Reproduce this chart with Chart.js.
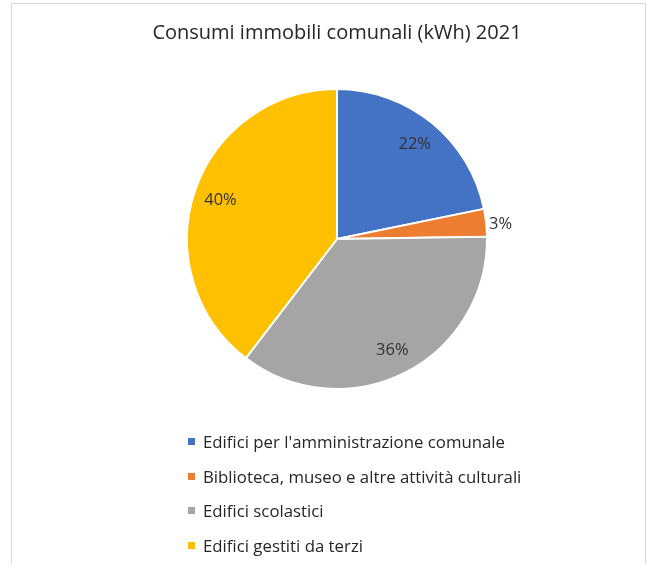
<!DOCTYPE html>
<html>
<head>
<meta charset="utf-8">
<script src="https://cdn.jsdelivr.net/npm/chart.js@4"></script>
<style>
  html, body { margin: 0; padding: 0; background: #fff; }
  body { width: 647px; height: 564px; position: relative; overflow: hidden; }
  #frame {
    position: absolute; left: 11px; top: 3px; width: 633px; height: 580px;
    border: 1px solid #d9d9d9; border-bottom: none;
  }
  #wrap { position: absolute; left: 0; top: 0; width: 647px; height: 564px; }
  #legend {
    position: absolute; left: 188px; top: 430px; margin: 0; padding: 0;
    list-style: none; font-family: "Open Sans", sans-serif; font-size: 16.8px; color: #262626;
  }
  #legend li { height: 34.7px; line-height: 24px; white-space: nowrap; }
  #legend span.box { display: inline-block; width: 7px; height: 7px; margin-right: 8px; vertical-align: 3px; }
</style>
</head>
<body>
<div id="frame"></div>
<div id="wrap"><canvas id="chart" width="647" height="564"></canvas></div>
<ul id="legend"></ul>
<script>
document.addEventListener('DOMContentLoaded', () => {
    // --- Data ---
    const titleText = 'Consumi immobili comunali (kWh) 2021';
    const categories = [
        'Edifici per l\'amministrazione comunale',
        'Biblioteca, museo e altre attività culturali',
        'Edifici scolastici',
        'Edifici gestiti da terzi'
    ];
    const shares = [22, 3, 36, 40];
    const colors = ['#4472C4', '#ED7D31', '#A5A5A5', '#FFC000'];

    // --- Percent labels on / beside slices ---
    const sliceLabels = {
        id: 'sliceLabels',
        afterDatasetsDraw(chart) {
            const ctx = chart.ctx;
            const meta = chart.getDatasetMeta(0);
            ctx.save();
            ctx.font = '16.5px "Open Sans", sans-serif';
            ctx.fillStyle = '#333333';
            ctx.textBaseline = 'middle';
            meta.data.forEach((arc, i) => {
                const mid = (arc.startAngle + arc.endAngle) / 2;
                const small = shares[i] < 5;
                const r = small ? arc.outerRadius + 3 : arc.outerRadius * 0.82;
                const x = arc.x + Math.cos(mid) * r;
                const y = arc.y + Math.sin(mid) * r + (small ? 2 : 1);
                ctx.textAlign = small ? 'left' : 'center';
                ctx.fillText(shares[i] + '%', x, y);
            });
            ctx.restore();
        }
    };

    new Chart(document.getElementById('chart').getContext('2d'), {
        type: 'pie',
        data: {
            labels: categories,
            datasets: [{
                data: shares,
                backgroundColor: colors,
                borderColor: '#ffffff',
                borderWidth: 2
            }]
        },
        options: {
            responsive: false,
            animation: false,
            // pie centred at x=337: chart area spans 27..647, height limits radius
            layout: { padding: { top: 0, left: 27, right: 0, bottom: 174 } },
            plugins: {
                legend: { display: false },
                tooltip: { enabled: false },
                title: {
                    display: true,
                    text: titleText,
                    color: '#262626',
                    font: { family: 'Open Sans', size: 20, weight: 400 },
                    lineHeight: 1.2,
                    padding: { top: 21, bottom: 43 }
                }
            }
        },
        plugins: [sliceLabels]
    });

    // --- Legend (one item per line) ---
    const legend = document.getElementById('legend');
    categories.forEach((name, i) => {
        const li = document.createElement('li');
        const box = document.createElement('span');
        box.className = 'box';
        box.style.background = colors[i];
        li.appendChild(box);
        li.appendChild(document.createTextNode(name));
        legend.appendChild(li);
    });
});
</script>
</body>
</html>
